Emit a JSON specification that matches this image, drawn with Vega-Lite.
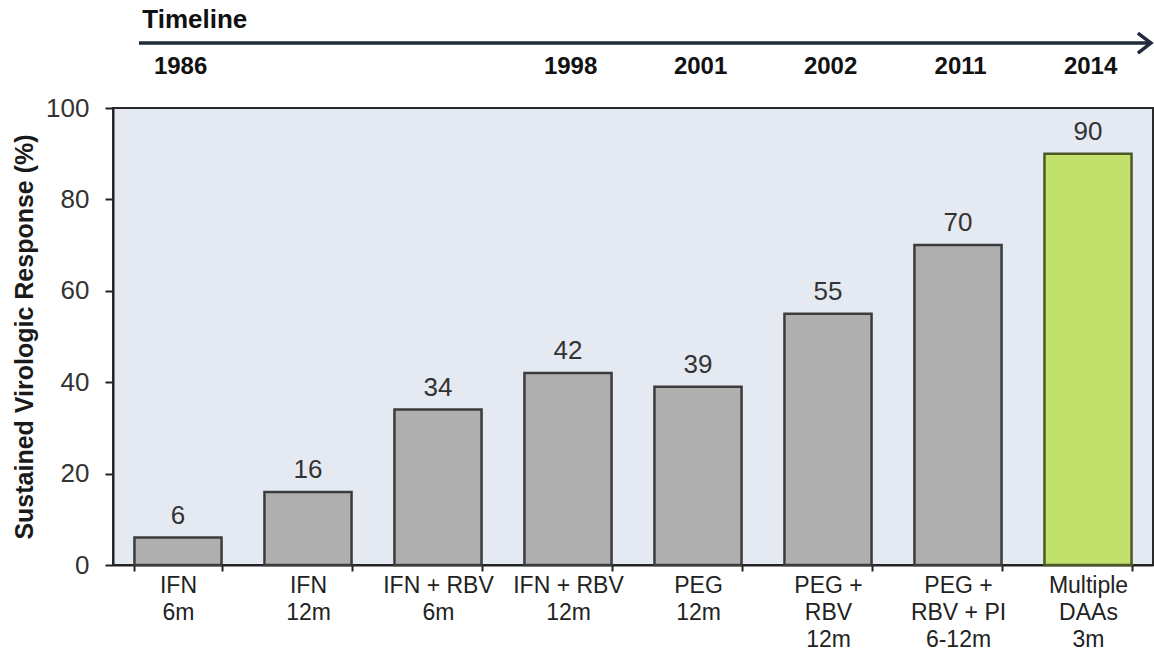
{
  "$schema": "https://vega.github.io/schema/vega-lite/v6.json",
  "autosize": {"type": "none"},
  "padding": {"left": 113, "top": 108, "right": 1, "bottom": 89},
  "width": 1040,
  "height": 457,
  "background": "white",
  "config": {
    "view": {"fill": "#E5E9F1", "stroke": "#2a2a2a", "strokeWidth": 2},
    "font": "Liberation Sans"
  },
  "data": {
    "values": [
      {"treatment": "IFN|6m", "svr": 6, "year": "1986", "regimen": "Interferon-based"},
      {"treatment": "IFN|12m", "svr": 16, "year": "", "regimen": "Interferon-based"},
      {"treatment": "IFN + RBV|6m", "svr": 34, "year": "", "regimen": "Interferon-based"},
      {"treatment": "IFN + RBV|12m", "svr": 42, "year": "1998", "regimen": "Interferon-based"},
      {"treatment": "PEG|12m", "svr": 39, "year": "2001", "regimen": "Interferon-based"},
      {"treatment": "PEG +|RBV|12m", "svr": 55, "year": "2002", "regimen": "Interferon-based"},
      {"treatment": "PEG +|RBV + PI|6-12m", "svr": 70, "year": "2011", "regimen": "Interferon-based"},
      {"treatment": "Multiple|DAAs|3m", "svr": 90, "year": "2014", "regimen": "DAA"}
    ]
  },
  "resolve": {"scale": {"x": "independent"}},
  "layer": [
    {
      "encoding": {
        "x": {
          "field": "treatment",
          "type": "nominal",
          "sort": null,
          "scale": {"paddingInner": 0.33, "paddingOuter": 0.165},
          "axis": {
            "title": null,
            "labelAngle": 0,
            "labelExpr": "split(datum.label, '|')",
            "labelFont": "Liberation Sans Narrow, Liberation Sans",
            "labelFontSize": 23,
            "labelLineHeight": 27,
            "labelColor": "#222222",
            "labelPadding": 3,
            "labelLimit": 0,
            "domainColor": "#222222",
            "domainWidth": 2,
            "tickColor": "#222222",
            "tickWidth": 2,
            "tickSize": 6,
            "tickBand": "extent"
          }
        }
      },
      "layer": [
        {
          "mark": {"type": "bar", "strokeWidth": 2.5},
          "encoding": {
            "y": {
              "field": "svr",
              "type": "quantitative",
              "scale": {"domain": [0, 100], "nice": false},
              "axis": {
                "title": "Sustained Virologic Response (%)",
                "titleFont": "Liberation Sans",
                "titleFontSize": 25,
                "titleFontWeight": "bold",
                "titleColor": "#1a1a1a",
                "titlePadding": 8,
                "values": [0, 20, 40, 60, 80, 100],
                "labelFontSize": 26,
                "labelColor": "#333333",
                "labelPadding": 16,
                "grid": false,
                "domainColor": "#222222",
                "domainWidth": 2,
                "tickColor": "#222222",
                "tickWidth": 2,
                "tickSize": 8
              }
            },
            "fill": {
              "field": "regimen",
              "type": "nominal",
              "scale": {"domain": ["Interferon-based", "DAA"], "range": ["#AFAFAF", "#C2E06C"]},
              "legend": null
            },
            "stroke": {
              "field": "regimen",
              "type": "nominal",
              "scale": {"domain": ["Interferon-based", "DAA"], "range": ["#3C3C3C", "#4B5A24"]},
              "legend": null
            }
          }
        },
        {
          "mark": {"type": "text", "fontSize": 26, "color": "#333333", "baseline": "alphabetic", "dy": -14},
          "encoding": {
            "y": {"field": "svr", "type": "quantitative"},
            "text": {"field": "svr", "type": "quantitative"}
          }
        },
        {
          "mark": {"type": "text", "fontSize": 24, "fontWeight": "bold", "color": "#111111", "baseline": "middle"},
          "encoding": {
            "x": {"field": "treatment", "type": "nominal", "bandPosition": 0.53},
            "y": {"datum": 109, "type": "quantitative"},
            "text": {"field": "year", "type": "nominal"}
          }
        },
        {
          "transform": [{"filter": "datum.year == '1986'"}],
          "mark": {"type": "text", "fontSize": 26, "fontWeight": "bold", "color": "#111111", "baseline": "middle", "align": "left"},
          "encoding": {
            "x": {"field": "treatment", "type": "nominal", "bandPosition": 0.09},
            "y": {"datum": 119.3, "type": "quantitative"},
            "text": {"value": "Timeline"}
          }
        }
      ]
    },
    {
      "data": {"values": [{"start": 0.2, "end": 7.98, "tip": 7.93, "level": 114.2}]},
      "encoding": {
        "y": {"field": "level", "type": "quantitative"}
      },
      "layer": [
        {
          "mark": {"type": "rule", "strokeWidth": 3.5, "color": "#1F2A3C"},
          "encoding": {
            "x": {"field": "start", "type": "quantitative", "scale": {"domain": [0, 8], "nice": false}, "axis": null},
            "x2": {"field": "end"}
          }
        },
        {
          "mark": {"type": "point", "shape": "M -0.6 -1 L 0.7 0 L -0.6 1", "size": 400, "filled": false, "strokeWidth": 3.5, "color": "#1F2A3C", "opacity": 1},
          "encoding": {
            "x": {"field": "tip", "type": "quantitative", "axis": null}
          }
        }
      ]
    }
  ]
}
